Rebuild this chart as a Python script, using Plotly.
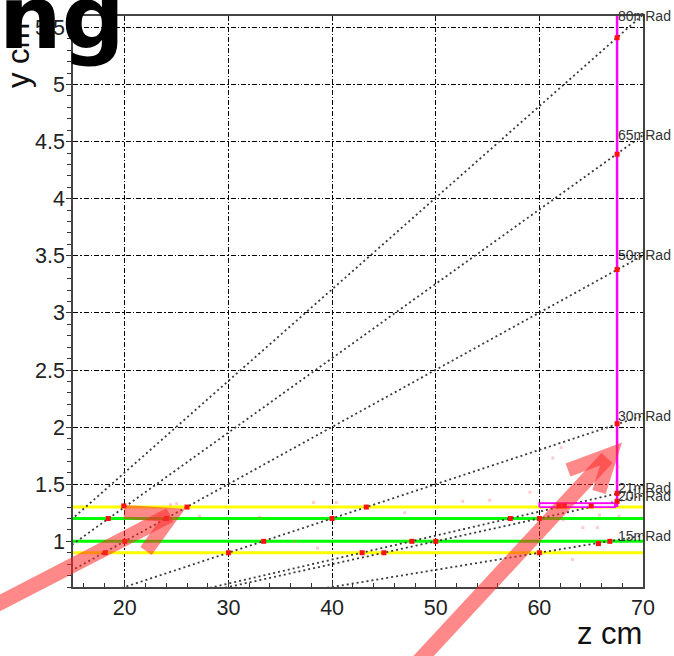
import numpy as np
import plotly.graph_objects as go

# Track angles (mrad) of the reference rays from the interaction point
angles_mrad = [80, 65, 50, 30, 21, 20, 15]
angle_labels = [f"{a}mRad" for a in angles_mrad]

# Detector layers (radius y in cm)
yellow_layers = [1.3, 0.9]
green_layers = [1.2, 1.0]

# Outer station: vertical plane and small box
plane_z = 67.5
plane_y = [1.3, 5.7]
box_z = [60.0, 67.3]
box_y = [1.30, 1.335]

# Ray extent and where the labels sit
ray_z = [0.0, 70.0]
label_z = 70.0

# Recorded hits (z, y)
hit_z = [18.1, 30.0, 42.9, 45.0, 60.0,
         20.0, 33.4, 47.7, 50.0, 65.7, 66.8,
         18.4, 24.0, 40.0, 57.2, 60.0,
         19.9, 26.0, 43.3, 61.9, 62.4, 65.0,
         67.5, 67.5, 67.5, 67.5, 67.5, 67.5]
hit_y = [0.90, 0.90, 0.90, 0.90, 0.90,
         1.00, 1.00, 1.00, 1.00, 0.98, 1.00,
         1.20, 1.20, 1.20, 1.20, 1.20,
         1.31, 1.30, 1.30, 1.31, 1.31, 1.31,
         5.41, 4.39, 3.38, 2.03, 1.42, 1.35]

# Faint scattered secondary hits
soft_z = [24.4, 25.0, 27.2, 36.4, 38.2, 38.6, 40.4, 52.6, 55.2, 59.1,
          61.3, 62.1, 62.3, 63.2, 64.2, 65.6, 65.8, 67.4, 67.6, 67.7, 47.0, 33.0]
soft_y = [1.32, 1.33, 1.22, 1.00, 1.34, 0.94, 1.34, 1.35, 1.36, 1.43,
          1.73, 1.82, 1.19, 0.84, 1.12, 1.12, 1.23, 1.51, 1.65, 1.22, 1.25, 1.21]

# Overlay arrows (pixel positions on the page)
arrow_shafts = [[(-10, 608), (170, 515)], [(418, 662), (607, 458)]]
arrow_heads = [[(124, 512), (172, 515), (146, 551)], [(568, 470), (611, 454), (599, 492)]]

W, H = 674, 656
ML, MR, MT, MB = 73, 31, 16, 69
Y_TOP = 5.6


def px(x, y):
    return (x - ML) / (W - ML - MR), (H - MB - y) / (H - MT - MB)


fig = go.Figure()

for yl in yellow_layers:
    fig.add_trace(go.Scatter(x=[15, 70], y=[yl, yl], mode="lines",
                             line=dict(color="#ffff00", width=3), hoverinfo="skip"))
for yl in green_layers:
    fig.add_trace(go.Scatter(x=[15, 70], y=[yl, yl], mode="lines",
                             line=dict(color="#00ff00", width=3), hoverinfo="skip"))

for a in angles_mrad:
    t = np.tan(a / 1000.0)
    fig.add_trace(go.Scatter(x=ray_z, y=[z * t for z in ray_z], mode="lines",
                             line=dict(color="#3a3a3a", width=1.8, dash="2px,3px"),
                             hoverinfo="skip"))

fig.add_trace(go.Scatter(x=[box_z[0], box_z[1], box_z[1], box_z[0], box_z[0]],
                         y=[box_y[0], box_y[0], box_y[1], box_y[1], box_y[0]],
                         mode="lines", fill="toself", fillcolor="rgba(255,230,255,1)",
                         line=dict(color="#ff00ff", width=1.8), hoverinfo="skip"))
fig.add_trace(go.Scatter(x=[plane_z, plane_z], y=plane_y, mode="lines",
                         line=dict(color="#ff00ff", width=2.5), hoverinfo="skip"))

fig.add_trace(go.Scatter(x=soft_z, y=soft_y, mode="markers",
                         marker=dict(color="rgba(255,110,110,0.35)", size=3, symbol="square"),
                         hoverinfo="skip"))
fig.add_trace(go.Scatter(x=hit_z, y=hit_y, mode="markers",
                         marker=dict(color="#ff1010", size=5, symbol="square"),
                         hoverinfo="skip"))

annotations = []
for a, lab in zip(angles_mrad, angle_labels):
    ly = min(label_z * np.tan(a / 1000.0), Y_TOP)
    annotations.append(dict(x=plane_z, y=ly, xref="x", yref="y", xshift=-1,
                            text=lab, showarrow=False, xanchor="left", yanchor="middle",
                            font=dict(family="Liberation Sans, Arial", size=14, color="#333333")))

zx, zy = px(644, 633)
annotations.append(dict(x=zx, y=zy, xref="paper", yref="paper", text="z cm",
                        showarrow=False, xanchor="right", yanchor="middle",
                        font=dict(family="Liberation Sans, Arial", size=31, color="#111111")))
yx, yy = px(19, 56)
annotations.append(dict(x=yx, y=yy, xref="paper", yref="paper", text="y cm",
                        showarrow=False, textangle=-90, xanchor="center", yanchor="middle",
                        font=dict(family="Liberation Sans, Arial", size=31, color="#111111")))
nx, ny = px(-3, 18)
annotations.append(dict(x=nx, y=ny, xref="paper", yref="paper", text="<b>ng</b>",
                        showarrow=False, xanchor="left", yanchor="middle",
                        font=dict(family="DejaVu Sans", size=88, color="#000000")))

shapes = []
red = "rgba(255,40,40,0.55)"
for (p0, p1) in arrow_shafts:
    x0, y0 = px(*p0)
    x1, y1 = px(*p1)
    shapes.append(dict(type="line", xref="paper", yref="paper", x0=x0, y0=y0, x1=x1, y1=y1,
                       line=dict(color=red, width=15), layer="above"))
for pts in arrow_heads:
    q = [px(*p) for p in pts]
    path = "M {} {} L {} {} L {} {}".format(q[0][0], q[0][1], q[1][0], q[1][1], q[2][0], q[2][1])
    shapes.append(dict(type="path", xref="paper", yref="paper", path=path,
                       line=dict(color=red, width=14), layer="above"))

tickfont = dict(family="Liberation Sans, Arial", size=21.5, color="#222222")
grid_dash = "5px,2px,1.5px,2px"

fig.update_layout(
    width=W, height=H,
    margin=dict(l=ML, r=MR, t=MT, b=MB),
    paper_bgcolor="white", plot_bgcolor="white",
    showlegend=False,
    annotations=annotations,
    shapes=shapes,
    xaxis=dict(range=[15, 70], tick0=0, dtick=10, showgrid=True, gridcolor="#000000",
               gridwidth=1, griddash=grid_dash, zeroline=False,
               showline=True, linecolor="#444444", linewidth=1.5, mirror=True,
               ticks="inside", ticklen=6, tickcolor="#333333", tickfont=tickfont,
               minor=dict(dtick=2, ticks="inside", ticklen=4, tickcolor="#333333", showgrid=False)),
    yaxis=dict(range=[0.6, Y_TOP], tick0=0, dtick=0.5, showgrid=True, gridcolor="#000000",
               gridwidth=1, griddash=grid_dash, zeroline=False,
               showline=True, linecolor="#444444", linewidth=1.5, mirror=True,
               ticks="outside", ticklen=5, tickcolor="#333333", tickfont=tickfont,
               ticklabelstandoff=-3,
               minor=dict(dtick=0.1, ticks="outside", ticklen=4, tickcolor="#333333", showgrid=False)),
)

fig.write_html("out.html")
